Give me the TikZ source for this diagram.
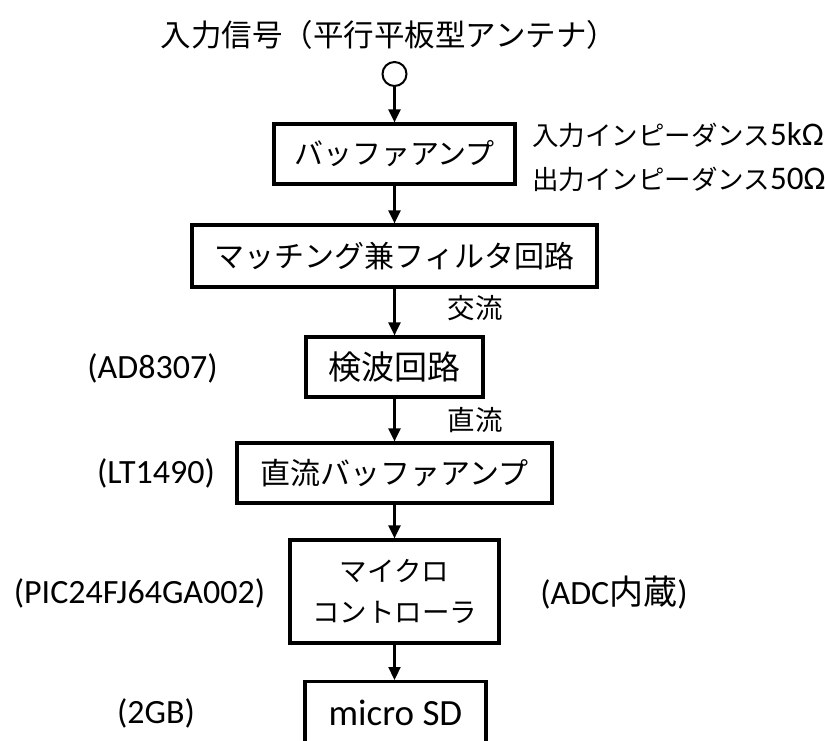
\documentclass[tikz,border=0pt]{standalone}
\usepackage{fontspec}
\setmainfont{Carlito}
\newfontfamily\jp{Noto Sans CJK JP}
\usetikzlibrary{arrows.meta}
\tikzset{
  blk/.style={draw, line width=3.2pt, inner sep=0pt, align=center},
  flow/.style={line width=2.2pt, -{Triangle[length=13pt,width=12pt]}},
  lbl/.style={inner sep=0pt, align=center}
}
\begin{document}
\begin{tikzpicture}[x=1pt,y=-1pt]
\useasboundingbox (0,0) rectangle (825,740);
\clip (0,0) rectangle (825,740);
\fill[white] (0,0) rectangle (825,740);
% title and antenna terminal
\node[lbl, font=\jp\fontsize{30.5}{36}\selectfont] (title) at (389,35) {入力信号（平行平板型アンテナ）};
\node[draw, circle, line width=2pt, minimum size=24pt, inner sep=0pt] (ant) at (394.5,74) {};
% blocks
\node[blk, minimum width=241pt, minimum height=60pt, font=\jp\fontsize{29}{35}\selectfont] (buf) at (394.5,154) {バッファアンプ};
\node[blk, minimum width=405pt, minimum height=62pt, font=\jp\fontsize{30}{36}\selectfont] (match) at (394.5,256) {マッチング兼フィルタ回路};
\node[blk, minimum width=177pt, minimum height=60pt, font=\jp\fontsize{33}{40}\selectfont] (det) at (394.5,367) {検波回路};
\node[blk, minimum width=315pt, minimum height=60pt, font=\jp\fontsize{30}{36}\selectfont] (dcbuf) at (394.5,473) {直流バッファアンプ};
\node[blk, minimum width=209pt, minimum height=103pt, font=\jp\fontsize{27.5}{41}\selectfont] (mcu) at (394.5,591.5) {マイクロ\\コントローラ};
\node[blk, minimum width=181pt, minimum height=120pt, anchor=north] (sd) at (395.5,680) {};
\node[lbl, font=\fontsize{37}{44}\selectfont] (sdtext) at (395.5,713) {micro SD};
% side labels
\node[lbl, anchor=west] (zin) at (532,135) {{\jp\fontsize{26.5}{32}\selectfont 入力インピーダンス}{\fontsize{33}{38}\selectfont 5kΩ}};
\node[lbl, anchor=west] (zout) at (532,179) {{\jp\fontsize{26.5}{32}\selectfont 出力インピーダンス}{\fontsize{33}{38}\selectfont 50Ω}};
\node[lbl, font=\jp\fontsize{27.5}{33}\selectfont] (ac) at (475,308) {交流};
\node[lbl, font=\jp\fontsize{27.5}{33}\selectfont] (dc) at (475,420) {直流};
\node[lbl, font=\fontsize{34}{40}\selectfont] (ad) at (152.5,368) {(AD8307)};
\node[lbl, font=\fontsize{34}{40}\selectfont] (lt) at (156,473) {(LT1490)};
\node[lbl, font=\fontsize{34}{40}\selectfont] (pic) at (139.5,593) {(PIC24FJ64GA002)};
\node[lbl, font=\fontsize{34}{40}\selectfont] (gb) at (156,713) {(2GB)};
\node[lbl, font=\fontsize{34}{40}\selectfont] (adc) at (614,593) {(ADC{\jp 内蔵})};
% connectors
\draw[flow] (ant.south) -- (ant.south |- buf.north);
\draw[flow] (buf.south) -- (buf.south |- match.north);
\draw[flow] (match.south -| det.north) -- (det.north);
\draw[flow] (det.south) -- (det.south |- dcbuf.north);
\draw[flow] (dcbuf.south -| mcu.north) -- (mcu.north);
\draw[flow] (mcu.south) -- (mcu.south |- sd.north);
\end{tikzpicture}
\end{document}
